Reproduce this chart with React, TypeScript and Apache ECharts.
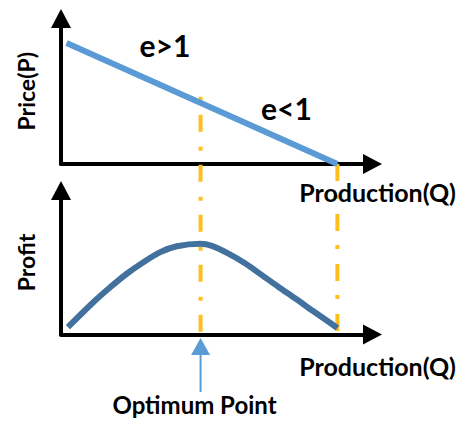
import React, { useEffect, useRef } from "react";
import * as echarts from "echarts";

// Demand line (price vs production)
const priceQ = [0.2, 10];
const priceP = [8.32, 0];

// Profit curve (profit vs production)
const profitQ = [0.25, 1.17, 1.78, 2.38, 2.98, 3.59, 4.19, 5.04, 5.46, 6.06, 6.67, 7.27, 7.87, 8.48, 9.08, 9.68, 10];
const profitV = [0.51, 2.24, 3.28, 4.22, 5.02, 5.72, 6.13, 6.3, 6.16, 5.62, 4.93, 4.12, 3.3, 2.5, 1.68, 0.88, 0.45];

const OPTIMUM_Q = 5.05;
const MAX_Q = 10;

const xTitle = "Production(Q)";
const yTitles = ["Price(P)", "Profit"];
const elasticityNotes = ["e>1", "e<1"];
const pointerLabel = "Optimum Point";

const FONT = "Lato";

function priceAt(q: number) {
  const t = (q - priceQ[0]) / (priceQ[1] - priceQ[0]);
  return priceP[0] + t * (priceP[1] - priceP[0]);
}

export default function App() {
  const ref = useRef<HTMLDivElement>(null);

  useEffect(() => {
    const chart = echarts.init(ref.current!, null, { renderer: "svg" });

    const axisLine = {
      show: true,
      onZero: false,
      symbol: ["none", "triangle"],
      symbolSize: [20, 19],
      lineStyle: { color: "#000", width: 4 },
    };
    const hidden = {
      axisTick: { show: false },
      axisLabel: { show: false },
      splitLine: { show: false },
    };
    const nameStyle = {
      fontFamily: FONT,
      fontWeight: "bold" as const,
      fontSize: 23,
      color: "#000",
    };

    chart.setOption({
      animation: false,
      backgroundColor: "#fff",
      grid: [
        { left: 61, top: 18.5, width: 311.5, height: 145.5 },
        { left: 61, top: 190.5, width: 311.5, height: 144 },
      ],
      xAxis: [0, 1].map((i) => ({
        type: "value",
        gridIndex: i,
        min: 0,
        max: 11.27,
        axisLine,
        ...hidden,
      })),
      yAxis: [0, 1].map((i) => ({
        type: "value",
        gridIndex: i,
        min: 0,
        max: 10,
        axisLine,
        ...hidden,
        name: yTitles[i],
        nameLocation: "middle",
        nameGap: 24,
        nameTextStyle: nameStyle,
      })),
      series: [
        {
          type: "line",
          xAxisIndex: 0,
          yAxisIndex: 0,
          data: priceQ.map((q, i) => [q, priceP[i]]),
          showSymbol: false,
          lineStyle: { color: "#5B9BD5", width: 6, cap: "butt" },
          z: 3,
        },
        {
          type: "line",
          xAxisIndex: 1,
          yAxisIndex: 1,
          data: profitQ.map((q, i) => [q, profitV[i]]),
          smooth: 0.3,
          showSymbol: false,
          lineStyle: { color: "#41719C", width: 6, cap: "butt" },
          z: 3,
        },
      ],
    });

    const optTop = chart.convertToPixel({ gridIndex: 0 }, [OPTIMUM_Q, priceAt(OPTIMUM_Q)]) as number[];
    const optBottom = chart.convertToPixel({ gridIndex: 1 }, [OPTIMUM_Q, 0]) as number[];
    const endTop = chart.convertToPixel({ gridIndex: 0 }, [MAX_Q, 0]) as number[];
    const endBottom = chart.convertToPixel({ gridIndex: 1 }, [MAX_Q, 0]) as number[];
    const orange = "#FFBE1E";
    const xo = optBottom[0];

    const boldText = (text: string, x: number, y: number, size: number) => ({
      type: "text",
      x,
      y,
      z: 5,
      style: {
        text,
        font: `bold ${size}px ${FONT}`,
        fill: "#000",
        align: "center",
        verticalAlign: "middle",
      },
    });

    chart.setOption({
      graphic: [
        {
          type: "line",
          z: 1,
          shape: { x1: optTop[0], y1: optTop[1] - 6, x2: optBottom[0], y2: optBottom[1] },
          style: { stroke: orange, lineWidth: 4, lineDash: [4, 14, 17, 15] },
        },
        {
          type: "line",
          z: 1,
          shape: { x1: endTop[0], y1: endTop[1], x2: endBottom[0], y2: endBottom[1] },
          style: { stroke: orange, lineWidth: 4, lineDash: [17, 14, 4, 15] },
        },
        boldText(elasticityNotes[0], 165, 45, 30),
        boldText(elasticityNotes[1], 286.5, 108, 30),
        boldText(xTitle, 377.5, 192, 25),
        boldText(xTitle, 377.5, 366, 25),
        {
          type: "line",
          shape: { x1: xo, y1: 392, x2: xo, y2: 354 },
          style: { stroke: "#5B9BD5", lineWidth: 2 },
        },
        {
          type: "polygon",
          shape: { points: [[xo, 338], [xo - 9.5, 355], [xo + 9.5, 355]] },
          style: { fill: "#5B9BD5" },
        },
        boldText(pointerLabel, 194.5, 404, 24),
      ],
    });

    return () => chart.dispose();
  }, []);

  return (
    <div
      ref={ref}
      style={{ position: "absolute", left: 0, top: 0, width: 460, height: 421, background: "#fff" }}
    />
  );
}
